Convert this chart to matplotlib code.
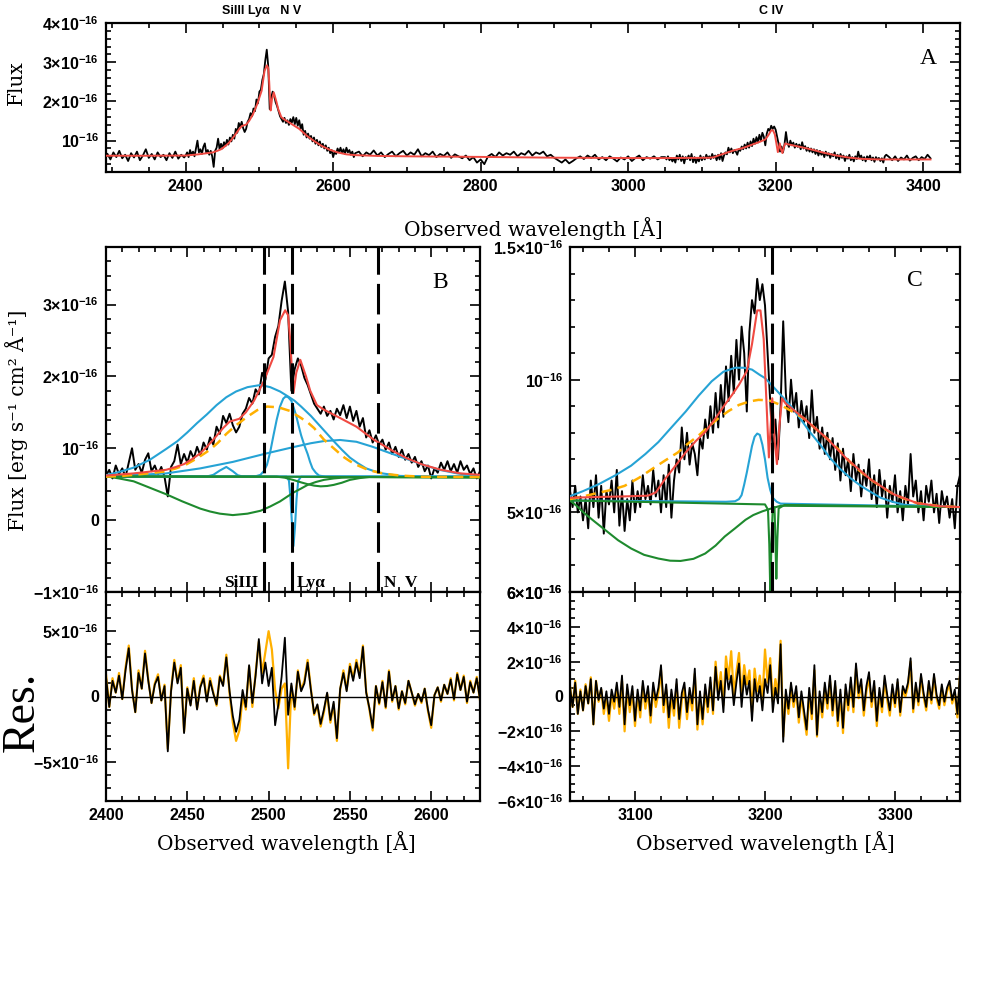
"""Quasar UV spectrum: full view (A), Lya / N V fit (B), C IV fit (C) and residuals."""

from __future__ import annotations

import numpy as np
import matplotlib
matplotlib.use("Agg")
import matplotlib.pyplot as plt
import matplotlib.ticker as ticker

FIG_PX = 981
RED = "#f04a42"
CYAN = "#26a3d5"
GREEN = "#1e8a2e"
ORANGE = "#ffb000"
LABEL_FONT = ["DejaVu Serif"]

# ---- observed flux, units of 1e-16 (as on the axes) ----
# blue continuum, 4 A steps
blue_start, blue_step = 2294, 4
blue_flux = [0.66, 0.52, 0.70, 0.58, 0.74, 0.55, 0.64, 0.48, 0.68, 0.57,
             0.72, 0.50, 0.62, 0.78, 0.56, 0.66, 0.52, 0.70, 0.58, 0.64,
             0.50, 0.68, 0.56, 0.72, 0.54, 0.64, 0.57]
# Lya / N V window, 2 A steps
lya_start, lya_step = 2400, 2
lya_flux = [0.62, 0.70, 0.58, 0.76, 0.64, 0.72, 0.60, 0.80, 1.00, 0.70,
            0.78, 0.66, 0.84, 0.93, 0.68, 0.76, 0.64, 0.74, 0.60, 0.33,
            0.74, 0.82, 1.05, 0.78, 0.92, 0.80, 0.96, 0.86, 1.02, 0.90,
            1.08, 0.98, 1.15, 1.05, 1.30, 1.20, 1.45, 1.35, 1.48, 1.32,
            1.22, 1.30, 1.48, 1.55, 1.70, 1.62, 1.82, 1.75, 2.05, 1.95,
            2.25, 2.30, 2.55, 2.70, 3.05, 3.32, 2.90, 1.80, 2.10, 2.25,
            2.15, 1.98, 1.88, 1.75, 1.62, 1.55, 1.48, 1.58, 1.45, 1.52,
            1.40, 1.55, 1.46, 1.60, 1.42, 1.58, 1.38, 1.52, 1.30, 1.42,
            1.15, 1.25, 1.08, 1.18, 1.05, 1.12, 0.98, 1.08, 0.92, 1.02,
            0.88, 0.98, 0.84, 0.92, 0.80, 0.88, 0.74, 0.82, 0.68, 0.76,
            0.58, 0.72, 0.66, 0.80, 0.70, 0.82, 0.68, 0.78, 0.66, 0.82,
            0.70, 0.76, 0.64, 0.72, 0.58, 0.68]
# continuum between the lines, 5 A steps
mid_start, mid_step = 2635, 5
mid_flux = [0.72, 0.60, 0.70, 0.64, 0.75, 0.62, 0.70, 0.58, 0.66, 0.72,
            0.60, 0.68, 0.74, 0.62, 0.70, 0.64, 0.78, 0.60, 0.68, 0.63,
            0.72, 0.58, 0.66, 0.61, 0.70, 0.56, 0.65, 0.60, 0.55, 0.62,
            0.50, 0.58, 0.44, 0.52, 0.40, 0.60, 0.66, 0.58, 0.70, 0.62,
            0.68, 0.64, 0.72, 0.60, 0.68, 0.64, 0.74, 0.62, 0.70, 0.66,
            0.72, 0.60, 0.64, 0.56, 0.50, 0.44, 0.52, 0.42, 0.48, 0.55,
            0.60, 0.53, 0.62, 0.56, 0.64, 0.52, 0.58, 0.50, 0.60, 0.54,
            0.47, 0.57, 0.52, 0.60, 0.48, 0.56, 0.62, 0.50, 0.58, 0.54,
            0.60, 0.52, 0.58]
# C IV window, 2 A steps
civ_start, civ_step = 3050, 2
civ_flux = [0.58, 0.52, 0.60, 0.50, 0.56, 0.47, 0.55, 0.44, 0.62, 0.52,
            0.64, 0.48, 0.60, 0.42, 0.58, 0.53, 0.62, 0.50, 0.66, 0.45,
            0.58, 0.43, 0.55, 0.47, 0.62, 0.50, 0.58, 0.52, 0.64, 0.55,
            0.60, 0.53, 0.66, 0.56, 0.62, 0.50, 0.64, 0.52, 0.68, 0.48,
            0.62, 0.70, 0.65, 0.82, 0.70, 0.80, 0.68, 0.76, 0.72, 0.64,
            0.78, 0.74, 0.85, 0.78, 0.90, 0.80, 0.95, 0.82, 0.98, 0.86,
            1.05, 0.92, 1.09, 0.95, 1.15, 1.00, 1.20, 1.10, 0.88, 1.18,
            1.30, 1.25, 1.38, 1.30, 1.36, 1.28, 1.10, 0.92, 0.72, 0.85,
            0.70, 0.90, 1.22, 0.95, 0.84, 1.00, 0.88, 0.95, 0.82, 0.92,
            0.84, 0.90, 0.78, 0.96, 0.80, 0.86, 0.74, 0.82, 0.72, 0.80,
            0.70, 0.78, 0.66, 0.76, 0.62, 0.74, 0.64, 0.70, 0.58, 0.72,
            0.62, 0.68, 0.56, 0.66, 0.60, 0.70, 0.55, 0.64, 0.52, 0.66,
            0.56, 0.62, 0.48, 0.60, 0.54, 0.64, 0.50, 0.58, 0.47, 0.60,
            0.53, 0.72, 0.56, 0.62, 0.50, 0.58, 0.47, 0.60, 0.54, 0.62,
            0.50, 0.57, 0.46, 0.58, 0.52, 0.56, 0.48, 0.55, 0.44, 0.60,
            0.64]
# red end, 4 A steps
tail_start, tail_step = 3354, 4
tail_flux = [0.58, 0.50, 0.60, 0.48, 0.57, 0.52, 0.62, 0.49, 0.56, 0.60,
             0.50, 0.58, 0.53, 0.64, 0.55]

# ---- total model (red) ----
model_wl = [2293, 2350, 2400, 2417, 2425, 2437, 2443, 2448, 2453, 2458,
            2462, 2466, 2472, 2476, 2479, 2482, 2486, 2491, 2497, 2503,
            2507, 2510.2, 2512, 2513.3, 2514.3, 2515.3, 2517, 2519.5, 2523, 2525.6,
            2529.7, 2533.8, 2544, 2554, 2564.6, 2575, 2585, 2595, 2606, 2618,
            2630, 2660, 2700, 2800, 2900, 3000, 3050, 3070, 3090, 3110,
            3116, 3123, 3131, 3139, 3147, 3154, 3162, 3169, 3175, 3180,
            3186, 3190, 3194, 3196.5, 3199, 3201.5, 3203, 3205.6, 3207.4, 3209.2,
            3211, 3213.1, 3215.7, 3230, 3248, 3263, 3281, 3299, 3317, 3335,
            3350, 3410]
model_flux = [0.615, 0.615, 0.62, 0.65, 0.67, 0.70, 0.74, 0.78, 0.85, 0.93,
              1.02, 1.12, 1.28, 1.37, 1.39, 1.41, 1.50, 1.66, 1.93, 2.27,
              2.78, 2.92, 2.85, 2.5, 2.1, 1.77, 2.05, 2.23, 2.0, 1.80,
              1.60, 1.54, 1.42, 1.30, 1.12, 0.98, 0.86, 0.77, 0.70, 0.65,
              0.63, 0.61, 0.60, 0.585, 0.565, 0.556, 0.555, 0.558, 0.560, 0.563,
              0.575, 0.625, 0.675, 0.726, 0.77, 0.803, 0.855, 0.905, 0.945, 0.981,
              1.032, 1.134, 1.261, 1.261, 1.153, 0.873, 0.707, 0.93, 0.771, 0.682,
              0.822, 0.93, 0.911, 0.854, 0.777, 0.701, 0.625, 0.568, 0.535, 0.523,
              0.52, 0.52]

# ---- Lya window components ----
lya_cyan = [
    ([2400, 2408, 2417, 2427, 2437, 2444, 2450, 2456, 2462, 2468,
      2474, 2480, 2487, 2495, 2501, 2507, 2512, 2516, 2520, 2526,
      2532, 2536, 2540, 2545, 2550, 2555, 2560, 2565, 2570, 2581,
      2600, 2630],
     [0.625, 0.67, 0.73, 0.84, 0.99, 1.10, 1.22, 1.35, 1.47, 1.60,
      1.71, 1.79, 1.85, 1.88, 1.85, 1.79, 1.72, 1.66, 1.58, 1.45,
      1.30, 1.20, 1.10, 0.98, 0.87, 0.79, 0.72, 0.68, 0.65, 0.615,
      0.605, 0.605]),
    ([2400, 2492, 2495, 2497, 2499, 2501, 2503, 2505, 2507, 2509,
      2510.5, 2512, 2514, 2515.5, 2517, 2518.5, 2520, 2522, 2524, 2525.5,
      2527, 2529, 2531, 2535, 2630],
     [0.605, 0.61, 0.63, 0.68, 0.77, 0.95, 1.18, 1.40, 1.58, 1.69,
      1.72, 1.71, 1.66, 1.56, 1.45, 1.31, 1.18, 1.04, 0.92, 0.81,
      0.72, 0.66, 0.62, 0.605, 0.605]),
    ([2400, 2420, 2437, 2458, 2478, 2499, 2516, 2526, 2534, 2544,
      2554, 2564, 2575, 2585, 2595, 2605, 2616, 2630],
     [0.61, 0.63, 0.65, 0.72, 0.81, 0.93, 1.02, 1.07, 1.10, 1.115,
      1.09, 1.02, 0.93, 0.85, 0.77, 0.70, 0.65, 0.61]),
    ([2400, 2462, 2466, 2470, 2474, 2478, 2481, 2484, 2630],
     [0.605, 0.607, 0.63, 0.69, 0.74, 0.68, 0.625, 0.607, 0.605]),
    ([2400, 2511, 2512.5, 2513.5, 2514.5, 2515.3, 2516.2, 2517.2, 2518.2, 2520, 2630],
     [0.605, 0.605, 0.55, 0.30, -0.10, -0.36, -0.10, 0.30, 0.55, 0.605, 0.605]),
]
lya_green = [
    ([2400, 2630], [0.61, 0.595]),
    ([2400, 2408, 2417, 2427, 2437, 2447, 2458, 2464, 2470, 2478,
      2487, 2495, 2501, 2507, 2511, 2515, 2520, 2524, 2529, 2534,
      2540, 2545, 2560, 2630],
     [0.61, 0.58, 0.54, 0.45, 0.36, 0.26, 0.16, 0.12, 0.09, 0.07,
      0.09, 0.13, 0.19, 0.26, 0.32, 0.38, 0.44, 0.49, 0.53, 0.56,
      0.58, 0.59, 0.60, 0.595]),
    ([2400, 2505, 2510, 2515, 2520, 2524, 2528, 2532, 2536, 2540,
      2545, 2550, 2556, 2562, 2630],
     [0.605, 0.605, 0.59, 0.56, 0.525, 0.50, 0.48, 0.47, 0.475, 0.49,
      0.52, 0.56, 0.585, 0.60, 0.595]),
]
lya_orange_wl = [2400, 2410, 2419, 2428, 2437, 2443, 2449, 2456, 2464, 2469,
                 2474, 2480, 2487, 2493, 2499, 2506, 2513, 2520, 2524, 2528,
                 2534, 2540, 2546, 2550, 2554, 2561, 2568, 2575, 2581, 2595,
                 2630]
lya_orange_flux = [0.605, 0.615, 0.635, 0.655, 0.68, 0.72, 0.77, 0.86, 0.98, 1.08,
                   1.20, 1.32, 1.44, 1.53, 1.58, 1.57, 1.52, 1.42, 1.36, 1.28,
                   1.12, 1.00, 0.88, 0.82, 0.77, 0.70, 0.66, 0.635, 0.62, 0.603,
                   0.60]
lya_lines = [2496.9, 2514.4, 2567.3]

# ---- C IV window components ----
civ_cyan = [
    ([3050, 3060, 3072, 3085, 3097, 3108, 3118, 3128, 3139, 3149,
      3159, 3168, 3177, 3184, 3190, 3196, 3200, 3206, 3212, 3220,
      3227, 3235, 3243, 3250, 3258, 3266, 3274, 3282, 3289, 3298,
      3307, 3325, 3350],
     [0.561, 0.58, 0.606, 0.64, 0.676, 0.72, 0.765, 0.82, 0.88, 0.94,
      0.994, 1.03, 1.045, 1.045, 1.038, 1.018, 1.006, 0.975, 0.943, 0.90,
      0.854, 0.80, 0.752, 0.705, 0.663, 0.628, 0.599, 0.575, 0.555, 0.54,
      0.529, 0.523, 0.52]),
    ([3050, 3170, 3177, 3180, 3182, 3184, 3186, 3188, 3190, 3192,
      3194, 3196, 3198, 3200, 3202, 3204, 3206, 3209, 3212, 3350],
     [0.545, 0.540, 0.542, 0.55, 0.565, 0.605, 0.65, 0.70, 0.75, 0.785,
      0.797, 0.792, 0.755, 0.70, 0.63, 0.585, 0.555, 0.54, 0.533, 0.52]),
]
civ_green = [
    ([3050, 3055, 3061, 3069, 3077, 3087, 3097, 3107, 3118, 3127,
      3135, 3145, 3154, 3162, 3169, 3177, 3185, 3191, 3198, 3205,
      3212, 3350],
     [0.545, 0.525, 0.497, 0.465, 0.434, 0.395, 0.364, 0.34, 0.326, 0.318,
      0.317, 0.325, 0.345, 0.375, 0.409, 0.44, 0.472, 0.49, 0.504, 0.515,
      0.525, 0.52]),
    ([3050, 3200, 3202.3, 3203.3, 3204.1, 3204.9, 3205.9, 3207.3, 3208.0, 3208.7,
      3209.5, 3210.5, 3215, 3350],
     [0.545, 0.53, 0.51, 0.38, 0.19, 0.38, 0.51, 0.52, 0.40, 0.25,
      0.40, 0.515, 0.528, 0.52]),
]
civ_orange_wl = [3050, 3060, 3072, 3082, 3092, 3103, 3113, 3123, 3133, 3141,
                 3149, 3157, 3164, 3172, 3180, 3188, 3195, 3203, 3212, 3221,
                 3230, 3239, 3248, 3256, 3263, 3272, 3281, 3290, 3299, 3308,
                 3317, 3335, 3350]
civ_orange_flux = [0.55, 0.56, 0.574, 0.585, 0.60, 0.63, 0.663, 0.695, 0.726, 0.76,
                   0.79, 0.825, 0.854, 0.882, 0.905, 0.918, 0.924, 0.922, 0.905, 0.88,
                   0.854, 0.815, 0.777, 0.74, 0.701, 0.66, 0.625, 0.595, 0.568, 0.55,
                   0.535, 0.523, 0.52]
civ_line = 3205.4

# ---- residuals (2 A steps, same grids as the windows) ----
res_lya_black = [1.5, -0.8, 1.2, 0.3, 1.6, -0.2, 2.0, 3.7, 0.5, -1.2,
                 1.8, 0.6, 3.3, 1.2, -0.5, 0.9, 1.5, -0.3, 0.8, -4.2,
                 0.4, 2.6, 1.0, 2.2, -2.8, 0.6, -0.7, 1.2, -1.0, 0.7,
                 1.4, -0.4, 1.2, 0.2, -0.6, 1.5, 0.8, 3.0, 0.4, -1.5,
                 -2.7, -1.8, 0.5, -0.8, 2.4, -0.5, 1.6, 4.4, 1.0, 2.6,
                 0.8, 2.2, -2.2, -0.6, 1.5, 4.5, -1.4, 1.0, -0.8, 1.9,
                 0.4, 1.0, 2.6, 0.5, -1.3, -0.6, -2.1, -1.0, 0.3, -1.8,
                 -0.4, -3.2, 0.6, 1.8, 0.4, 2.3, 1.2, 2.6, 1.4, 3.8,
                 0.3, -0.9, -2.4, 0.8, -0.5, 1.1, -0.8, 1.9, -0.3, 0.8,
                 -0.9, 0.4, -0.5, 1.2, 0.3, -0.6, 0.2, -0.4, 0.6, -1.0,
                 -2.2, 0.1, 0.7, -0.3, 0.9, 0.2, 1.3, -0.2, 1.7, 0.5,
                 1.5, -0.4, 1.1, 0.3, 1.4, -0.2]
res_lya_orange = [1.7, -0.8, 1.4, 0.3, 1.8, -0.2, 2.2, 3.9, 0.6, -1.2,
                  2.0, 0.6, 3.5, 1.3, -0.5, 1.0, 1.7, -0.3, 0.9, -4.0,
                  0.5, 2.8, 1.1, 2.4, -2.7, 0.7, -0.6, 1.4, -0.9, 0.8,
                  1.6, -0.3, 1.4, 0.3, -0.7, 1.6, 0.9, 3.2, 0.2, -2.0,
                  -3.4, -2.6, 0.0, -1.0, 2.3, -0.8, 1.8, 4.2, 1.8, 3.4,
                  5.0, 3.6, 0.5, -0.9, 0.6, 1.0, -5.5, 0.8, -1.0, 2.0,
                  0.5, 1.2, 2.8, 0.6, -1.4, -0.7, -2.3, -1.2, 0.2, -2.0,
                  -0.6, -3.4, 0.5, 2.0, 0.5, 2.5, 1.4, 2.8, 1.6, 3.9,
                  0.4, -1.0, -2.6, 0.8, -0.6, 1.2, -0.9, 2.0, -0.4, 0.8,
                  -1.0, 0.4, -0.6, 1.2, 0.3, -0.7, 0.2, -0.5, 0.6, -1.1,
                  -2.4, 0.1, 0.7, -0.4, 0.9, 0.2, 1.4, -0.3, 1.8, 0.5,
                  1.6, -0.5, 1.2, 0.3, 1.5, -0.3]
res_civ_black = [0.5, -0.6, 0.8, -1.0, 0.3, -0.8, 0.6, -0.4, 1.0, -1.6,
                 0.9, -0.2, 0.5, -0.7, 0.3, -1.0, 0.4, -0.3, 0.8, -0.6,
                 1.2, -1.6, 0.7, -0.5, 0.6, -1.4, 0.4, -0.8, 0.9, -0.3,
                 0.6, -1.1, 0.8, -0.2, 0.5, 1.8, -0.5, 0.7, -1.2, 0.4,
                 -0.7, 1.0, -1.3, 0.2, 0.8, -0.9, 0.5, -0.4, 1.6, -1.6,
                 0.3, -1.3, 0.7, -0.6, 1.1, -0.8, 1.7, -0.2, 0.9, -0.9,
                 1.6, 0.4, 1.2, -0.5, 0.8, 1.9, -0.6, 1.2, 0.1, 0.9,
                 -1.4, 1.0, -0.3, 0.6, -0.8, 1.0, 0.2, 1.8, -0.9, 0.5,
                 -0.4, 3.0, -2.6, 0.4, -0.7, 0.8, -0.3, 0.6, -1.2, 0.3,
                 -0.8, -1.9, 0.5, -1.0, 1.8, -2.2, 0.3, -0.9, 0.8, -0.4,
                 1.2, -0.8, 0.9, -1.4, 0.4, -1.8, 0.7, -0.5, 1.1, -0.6,
                 1.9, 0.2, 1.0, -0.8, 0.6, 1.4, -0.3, 0.9, -1.4, 0.5,
                 -0.6, 1.2, 0.1, -0.8, 0.7, -0.4, 1.0, -0.9, 0.6, 0.2,
                 0.8, 2.2, -0.7, 0.8, -0.3, 1.3, 0.2, -0.6, 0.9, -0.2,
                 1.3, 0.1, -0.5, 0.7, -0.3, 0.5, 0.9, -0.2, 0.4, -1.0,
                 1.3]
res_civ_orange = [0.6, -0.6, 0.9, -1.0, 0.4, -0.8, 0.7, -0.4, 1.1, -1.6,
                  0.9, -0.3, 0.4, -1.0, 0.0, -1.4, 0.1, -0.7, 0.5, -1.0,
                  0.9, -2.0, 0.4, -0.9, 0.3, -1.7, 0.1, -1.2, 0.6, -0.7,
                  0.3, -1.5, 0.5, -0.6, 0.2, 1.5, -0.9, 0.4, -1.8, 0.0,
                  -1.1, 0.7, -1.8, -0.2, 0.5, -1.3, 0.2, -0.8, 1.3, -1.9,
                  0.0, -1.6, 0.4, -0.9, 0.8, -1.0, 2.0, 0.2, 1.4, -0.5,
                  2.3, 1.0, 2.6, 0.1, 1.4, 2.5, 0.0, 1.8, 0.7, 1.5,
                  -0.9, 1.6, 0.3, 1.2, -0.2, 2.7, 0.8, 2.2, -0.3, 1.0,
                  0.1, 3.2, -2.3, 0.1, -1.0, 0.5, -0.6, 0.3, -1.5, 0.0,
                  -1.1, -2.2, 0.2, -1.3, 1.5, -2.3, 0.0, -1.2, 0.5, -0.7,
                  0.9, -1.1, 0.6, -1.7, 0.1, -2.1, 0.4, -0.8, 0.8, -0.9,
                  1.6, -0.1, 0.7, -1.1, 0.3, 1.1, -0.6, 0.6, -1.7, 0.2,
                  -0.9, 0.9, -0.2, -1.1, 0.4, -0.6, 0.8, -1.1, 0.4, 0.0,
                  0.6, 2.0, -0.9, 0.6, -0.5, 1.1, 0.0, -0.8, 0.7, -0.4,
                  1.1, -0.1, -0.7, 0.5, -0.5, 0.3, 0.7, -0.4, 0.2, -1.2,
                  1.2]


def grid(start, step, values):
    return start + step * np.arange(len(values))


def sci(m):
    if m == "1":
        return r"$10^{-16}$"
    return r"$%s{\times}10^{-16}$" % m


def add_axes(fig, left, top, right, bottom):
    return fig.add_axes([left / FIG_PX, 1 - bottom / FIG_PX,
                         (right - left) / FIG_PX, (bottom - top) / FIG_PX])


def fig_text(fig, px, py, s, **kw):
    fig.text(px / FIG_PX, 1 - py / FIG_PX, s, **kw)


def style(ax, xlim, xmajor, xminor, ylim, yticks, ylabels, yminor, xlabels=True):
    ax.set_xlim(*xlim)
    ax.set_ylim(*ylim)
    ax.xaxis.set_major_locator(ticker.MultipleLocator(xmajor))
    ax.xaxis.set_minor_locator(ticker.MultipleLocator(xminor))
    ax.set_yticks(yticks)
    ax.set_yticklabels(ylabels)
    ax.yaxis.set_minor_locator(ticker.MultipleLocator(yminor))
    ax.tick_params(which="both", direction="in", top=True, right=True, width=1.2,
                   labelsize=11.5, pad=5)
    ax.tick_params(which="major", length=7)
    ax.tick_params(which="minor", length=3.5)
    if not xlabels:
        ax.tick_params(labelbottom=False)
    for s in ax.spines.values():
        s.set_linewidth(1.6)


def draw_window(ax, wl, flux, cyan, green, o_wl, o_flux, lines):
    ax.plot(wl, flux, color="black", lw=1.4, zorder=2)
    for cw, cf in cyan:
        ax.plot(cw, cf, color=CYAN, lw=1.5, zorder=3)
    for gw, gf in green:
        ax.plot(gw, gf, color=GREEN, lw=1.5, zorder=3)
    ax.plot(o_wl, o_flux, color=ORANGE, lw=1.8, dashes=(4, 2.5), zorder=4)
    ax.plot(model_wl, model_flux, color=RED, lw=1.5, zorder=5)
    for x in lines:
        ax.axvline(x, color="black", lw=2.2, dashes=(10, 3), zorder=6)


def draw_residual(ax, wl_start, black, orange):
    ax.plot(grid(wl_start, 2, orange), orange, color=ORANGE, lw=1.6, zorder=2)
    ax.plot(grid(wl_start, 2, black), black, color="black", lw=1.3, zorder=3)
    ax.axhline(0, color="black", lw=1.0, zorder=4)


def main() -> None:
    plt.rcParams["font.family"] = "Liberation Sans"
    plt.rcParams["font.weight"] = "bold"
    plt.rcParams["mathtext.fontset"] = "custom"
    plt.rcParams["mathtext.rm"] = "Liberation Sans:bold"
    plt.rcParams["mathtext.it"] = "Liberation Sans:bold"
    plt.rcParams["mathtext.bf"] = "Liberation Sans:bold"

    segs = [(blue_start, blue_step, blue_flux), (lya_start, lya_step, lya_flux),
            (mid_start, mid_step, mid_flux), (civ_start, civ_step, civ_flux),
            (tail_start, tail_step, tail_flux)]
    spec_wl = np.concatenate([grid(s, d, v) for s, d, v in segs])
    spec_flux = np.concatenate([np.asarray(v, float) for _, _, v in segs])

    fig = plt.figure(figsize=(FIG_PX / 100, FIG_PX / 100), dpi=100, facecolor="white")

    # A: full spectrum
    ax_a = add_axes(fig, 106, 23, 960, 172)
    ax_a.plot(spec_wl, spec_flux, color="black", lw=1.3, zorder=2)
    ax_a.plot(model_wl, model_flux, color=RED, lw=1.4, zorder=3)
    style(ax_a, (2292, 3450), 200, 50, (0.2, 4.0), [1, 2, 3, 4],
          [sci("1"), sci("2"), sci("3"), sci("4")], 0.2)

    # B: Lya / N V window
    ax_b = add_axes(fig, 106, 247, 480, 592)
    draw_window(ax_b, spec_wl, spec_flux, lya_cyan, lya_green,
                lya_orange_wl, lya_orange_flux, lya_lines)
    style(ax_b, (2400, 2630), 50, 10, (-1, 3.8), [-1, 0, 1, 2, 3],
          [sci("-1"), "0", sci("1"), sci("2"), sci("3")], 0.2, xlabels=False)

    # C: C IV window
    ax_c = add_axes(fig, 570, 247, 960, 592)
    draw_window(ax_c, spec_wl, spec_flux, civ_cyan, civ_green,
                civ_orange_wl, civ_orange_flux, [civ_line])
    style(ax_c, (3050, 3350), 100, 20, (0.2, 1.5), [0.2, 0.5, 1.0, 1.5],
          [sci("6"), sci("5"), sci("1"), sci("1.5")], 0.1, xlabels=False)

    # residuals
    ax_rb = add_axes(fig, 106, 592, 480, 801)
    draw_residual(ax_rb, lya_start, res_lya_black, res_lya_orange)
    style(ax_rb, (2400, 2630), 50, 10, (-8, 8), [-5, 0, 5],
          [sci("-5"), "0", sci("5")], 1)

    ax_rc = add_axes(fig, 570, 592, 960, 801)
    draw_residual(ax_rc, civ_start, res_civ_black, res_civ_orange)
    style(ax_rc, (3050, 3350), 100, 20, (-6, 6), [-6, -4, -2, 0, 2, 4, 6],
          [sci("-6"), sci("-4"), sci("-2"), "0", sci("2"), sci("4"), sci("6")], 0.5)

    # panel letters and line names
    for px, py, s in [(928, 58, "A"), (440, 283, "B"), (915, 280, "C")]:
        fig_text(fig, px, py, s, family="Liberation Serif", weight="normal",
                 fontsize=17, ha="center", va="center")
    fig_text(fig, 262, 11, "SiIII Ly\u03b1   N V", fontsize=9, ha="center", va="center",
             family=["Liberation Sans", "DejaVu Sans"])
    fig_text(fig, 771, 11, "C IV", fontsize=9, ha="center", va="center")
    fig_text(fig, 258, 587, "SiIII", family="Liberation Serif", fontsize=12.5,
             ha="right", va="baseline")
    fig_text(fig, 297, 587, "Ly\u03b1", family=["Liberation Serif", "DejaVu Serif"],
             fontsize=12.5, ha="left", va="baseline")
    fig_text(fig, 384, 587, "N  V", family="Liberation Serif", fontsize=12.5,
             ha="left", va="baseline")

    # axis titles
    lab = dict(family=LABEL_FONT, weight="normal", fontsize=14.5, ha="center", va="center")
    fig_text(fig, 533, 229, "Observed wavelength [\u00c5]", **lab)
    fig_text(fig, 286, 843, "Observed wavelength [\u00c5]", **lab)
    fig_text(fig, 765, 843, "Observed wavelength [\u00c5]", **lab)
    fig_text(fig, 16, 83, "Flux", rotation=90, **lab)
    fig_text(fig, 17, 420, "Flux [erg s\u207b\u00b9 cm\u00b2 \u00c5\u207b\u00b9]",
             rotation=90, **lab)
    fig_text(fig, 22, 712, "Res.", family="Liberation Serif", weight="normal",
             fontsize=33, rotation=90, ha="center", va="center")

    fig.savefig("out.png", dpi=100, facecolor="white")
    plt.close(fig)


if __name__ == "__main__":
    main()
